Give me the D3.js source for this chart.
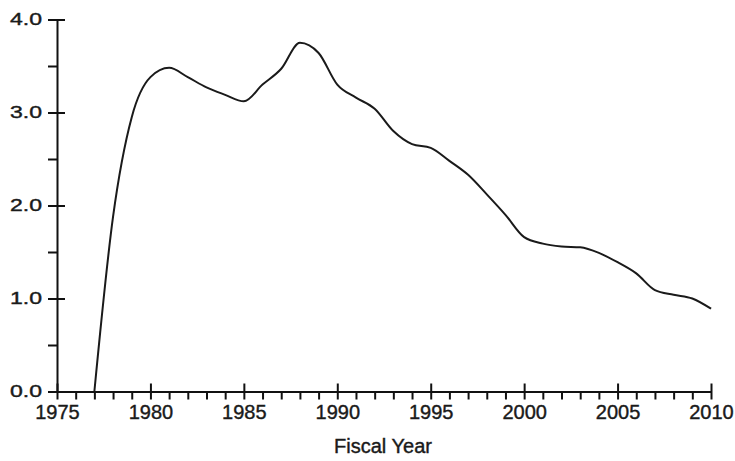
<!DOCTYPE html>
<html>
<head>
<meta charset="utf-8">
<script src="https://cdn.jsdelivr.net/npm/d3@7"></script>
<style>
  body { margin: 0; background: #fff; }
  svg text { font-family: "Liberation Sans", Arial, Helvetica, sans-serif; fill: #1a1a1a; stroke: #1a1a1a; stroke-width: 0.4px; }
</style>
</head>
<body>
<svg id="chart" width="735" height="461"></svg>
<script>
// fiscal years and values
const years = [1977, 1978, 1979, 1980, 1981, 1982, 1983, 1984, 1985, 1986,
               1987, 1988, 1989, 1990, 1991, 1992, 1993, 1994, 1995, 1996,
               1997, 1998, 1999, 2000, 2001, 2002, 2003, 2004, 2005, 2006,
               2007, 2008, 2009, 2010];
const values = [0, 1.88, 2.95, 3.38, 3.48, 3.38, 3.27, 3.19, 3.12, 3.3,
                3.47, 3.75, 3.64, 3.3, 3.16, 3.04, 2.8, 2.66, 2.62, 2.48,
                2.33, 2.12, 1.9, 1.66, 1.59, 1.56, 1.55, 1.49, 1.39, 1.27,
                1.09, 1.04, 1.0, 0.89];

const xMajor = [1975, 1980, 1985, 1990, 1995, 2000, 2005, 2010];
const yMajor = [0, 1, 2, 3, 4];
const yMinor = [0.5, 1.5, 2.5, 3.5];
const xTitle = "Fiscal Year";

const svg = d3.select("#chart");

const x = d3.scaleLinear().domain([1975, 2010]).range([57, 711]);
const y = d3.scaleLinear().domain([0, 4]).range([391.5, 19.5]);

// x axis : minor ticks hang below, major ticks cross the line
const xMinorTicks = d3.range(1975, 2011).filter(d => xMajor.indexOf(d) < 0);

svg.append("g")
    .attr("transform", "translate(0," + y(0) + ")")
    .call(d3.axisBottom(x).tickValues(xMinorTicks).tickSize(8).tickFormat(""))
    .call(g => g.select(".domain").remove())
    .selectAll("line").attr("stroke", "#111").attr("stroke-width", 2);

const gx = svg.append("g")
    .attr("transform", "translate(0," + y(0) + ")")
    .call(d3.axisBottom(x).tickValues(xMajor).tickSize(8).tickSizeOuter(0).tickFormat(d3.format("d")));
gx.select(".domain").attr("stroke", "#111").attr("stroke-width", 2);
gx.selectAll(".tick line").attr("y1", -8).attr("y2", 8).attr("stroke", "#111").attr("stroke-width", 2);
gx.selectAll(".tick text")
    .attr("y", 13)
    .attr("dy", "0.71em")
    .style("font-size", "20px");

// y axis
svg.append("g")
    .attr("transform", "translate(" + x(1975) + ",0)")
    .call(d3.axisLeft(y).tickValues(yMinor).tickSize(9).tickFormat(""))
    .call(g => g.select(".domain").remove())
    .selectAll("line").attr("stroke", "#111").attr("stroke-width", 2);

const gy = svg.append("g")
    .attr("transform", "translate(" + x(1975) + ",0)")
    .call(d3.axisLeft(y).tickValues(yMajor).tickSize(8).tickSizeOuter(0).tickFormat(d3.format(".1f")));
gy.select(".domain").attr("stroke", "#111").attr("stroke-width", 2);
gy.selectAll(".tick line").attr("x1", -9).attr("x2", 8).attr("stroke", "#111").attr("stroke-width", 2);
gy.selectAll(".tick text")
    .attr("x", -15)
    .attr("dy", "0.3em")
    .attr("textLength", 32)
    .attr("lengthAdjust", "spacingAndGlyphs")
    .style("font-size", "17px");

svg.selectAll(".tick text").attr("fill", "#1a1a1a");

// axis title
svg.append("text")
    .attr("x", 383)
    .attr("y", 453)
    .attr("text-anchor", "middle")
    .style("font-size", "20px")
    .text(xTitle);

// the series
const line = d3.line()
    .x((d, i) => x(years[i]))
    .y(d => y(d))
    .curve(d3.curveMonotoneX);

svg.append("path")
    .datum(values)
    .attr("fill", "none")
    .attr("stroke", "#1a1a1a")
    .attr("stroke-width", 2)
    .attr("stroke-linejoin", "round")
    .attr("d", line);
</script>
</body>
</html>
